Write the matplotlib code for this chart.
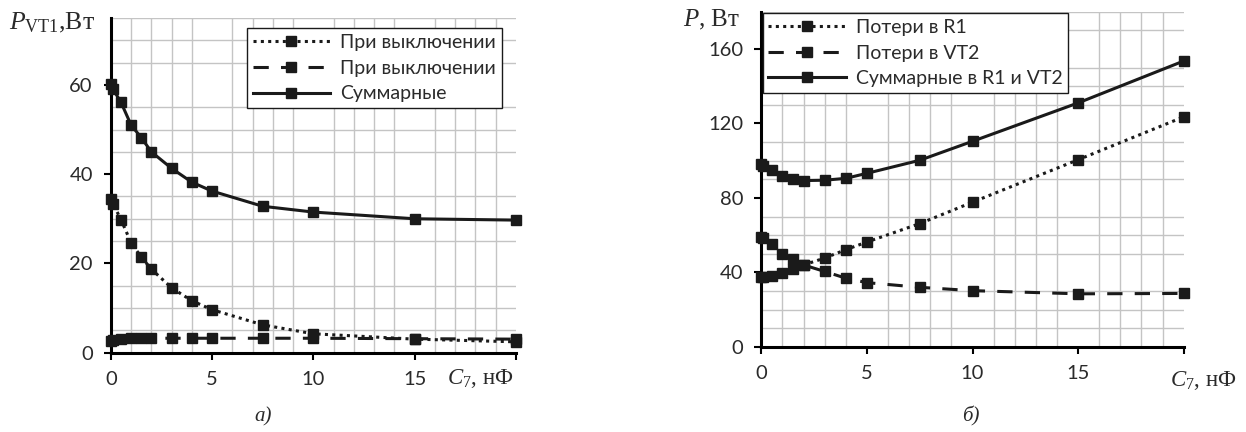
import matplotlib
matplotlib.use("Agg")
import matplotlib.pyplot as plt
from matplotlib.ticker import MultipleLocator, FixedLocator

plt.rcParams["font.family"] = ["Lato", "DejaVu Sans"]
plt.rcParams["mathtext.fontset"] = "custom"
plt.rcParams["mathtext.rm"] = "Liberation Serif"
plt.rcParams["mathtext.it"] = "Liberation Serif:italic"

# C7, nF
c7 = [0, 0.1, 0.5, 1, 1.5, 2, 3, 4, 5, 7.5, 10, 15, 20]

# chart a) P_VT1, W
a_off1 = [34.5, 33.4, 29.8, 24.6, 21.4, 18.7, 14.5, 11.6, 9.6, 6.2, 4.2, 3.0, 2.4]
a_off2 = [2.5, 2.8, 3.1, 3.2, 3.2, 3.2, 3.2, 3.2, 3.2, 3.2, 3.2, 3.1, 3.0]
a_sum = [60.2, 59.1, 56.1, 51.0, 48.2, 45.0, 41.3, 38.2, 36.2, 32.8, 31.5, 30.0, 29.7]
a_labels = ["При выключении", "При выключении", "Суммарные"]

# chart б) P, W
b_r1 = [37.4, 37.5, 37.8, 39.6, 41.7, 44.0, 47.7, 52.2, 56.3, 66.2, 77.7, 100.5, 123.5]
b_vt2 = [59.0, 58.5, 55.2, 50.0, 47.1, 44.0, 40.5, 36.9, 34.5, 32.0, 30.2, 28.5, 28.7]
b_sum = [98.0, 97.0, 95.2, 91.6, 90.3, 89.3, 89.5, 90.5, 93.2, 100.2, 110.4, 131.0, 153.5]
b_labels = ["Потери в R1", "Потери в VT2", "Суммарные в R1 и VT2"]

fig = plt.figure(figsize=(12.46, 4.32), dpi=100)
ax1 = fig.add_axes([0.089, 0.184, 0.325, 0.774])
ax2 = fig.add_axes([0.611, 0.197, 0.339, 0.776])

dotted = (0, (1, 1.4))
dashed = (0, (5, 4))
txt_col = "#2a2a2a"


def setup(ax, ymax, ystep, yticks):
    ax.set_xlim(0, 20)
    ax.set_ylim(0, ymax)
    ax.xaxis.set_major_locator(FixedLocator([0, 5, 10, 15, 20]))
    ax.set_xticklabels(["0", "5", "10", "15", ""])
    ax.yaxis.set_major_locator(FixedLocator(yticks))
    ax.xaxis.set_minor_locator(MultipleLocator(1))
    ax.yaxis.set_minor_locator(MultipleLocator(ystep))
    ax.grid(which="minor", color="#c4c4c4", lw=1.0)
    ax.set_axisbelow(True)
    for s in ["top", "right"]:
        ax.spines[s].set_visible(False)
    for s in ["left", "bottom"]:
        ax.spines[s].set_linewidth(2.2)
    ax.tick_params(which="major", direction="out", length=5, width=1.5,
                   labelsize=14.5, labelcolor=txt_col, pad=8)
    ax.tick_params(which="minor", length=0)


def draw(ax, series, labels, anchor):
    styles = [dotted, dashed, "-"]
    for ys, ls, lab in zip(series, styles, labels):
        ax.plot(c7, ys, ls=ls, lw=2.2, color="#1a1a1a", marker="s", ms=7.5,
                label=lab, clip_on=False, zorder=3)
    leg = ax.legend(loc="upper left", bbox_to_anchor=anchor,
                    bbox_transform=fig.transFigure, fontsize=14,
                    handlelength=4.0, frameon=True, fancybox=False,
                    borderpad=0.3, labelspacing=0.45, handletextpad=0.5,
                    borderaxespad=0)
    leg.get_frame().set_edgecolor("#1a1a1a")
    leg.get_frame().set_linewidth(1.0)
    leg.get_frame().set_alpha(1)
    for t in leg.get_texts():
        t.set_color(txt_col)


setup(ax1, 75, 5, [0, 20, 40, 60])
draw(ax1, [a_off1, a_off2, a_sum], a_labels, (0.198, 0.935))

setup(ax2, 180, 10, [0, 40, 80, 120, 160])
draw(ax2, [b_r1, b_vt2, b_sum], b_labels, (0.612, 0.970))

serif = ["Liberation Serif", "DejaVu Serif"]
fig.text(0.007, 0.948, r"$P_{\mathrm{VT1}}$,Вт", fontsize=18.5, family=serif,
         va="center", ha="left", color=txt_col)
fig.text(0.548, 0.953, r"$P$, Вт", fontsize=18, family=serif,
         va="center", ha="left", color=txt_col)
fig.text(0.359, 0.125, r"$C_{7}$, нФ", fontsize=16.5, family=serif,
         va="center", ha="left", color=txt_col)
fig.text(0.939, 0.12, r"$C_{7}$, нФ", fontsize=16.5, family=serif,
         va="center", ha="left", color=txt_col)
fig.text(0.211, 0.035, "а)", fontsize=15, family=serif, style="italic",
         va="center", ha="center", color=txt_col)
fig.text(0.779, 0.035, "б)", fontsize=15, family=serif, style="italic",
         va="center", ha="center", color=txt_col)

fig.savefig("out.png", dpi=100)
